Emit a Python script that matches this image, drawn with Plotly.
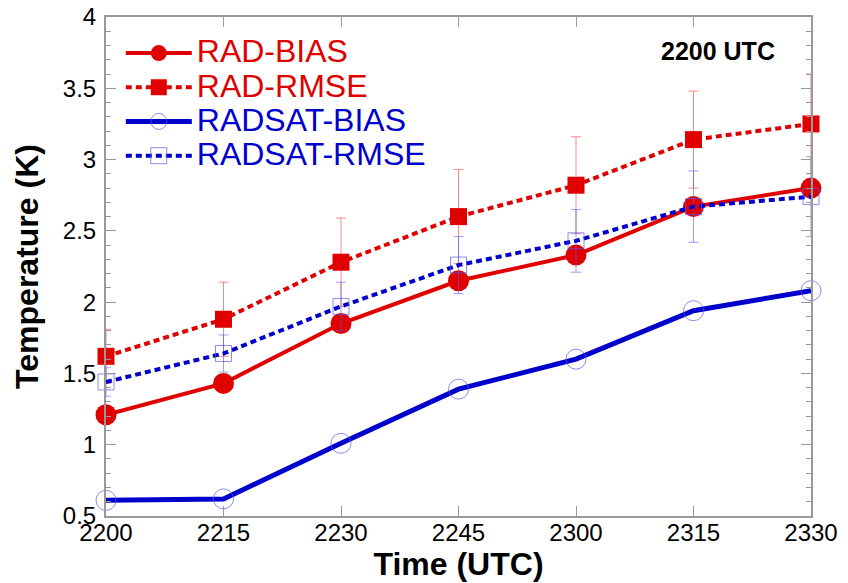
import plotly.graph_objects as go

times = ["2200", "2215", "2230", "2245", "2300", "2315", "2330"]
rad_bias = [1.21, 1.43, 1.85, 2.15, 2.33, 2.67, 2.80]
rad_rmse = [1.62, 1.88, 2.28, 2.60, 2.82, 3.14, 3.25]
rad_rmse_err = [0.19, 0.26, 0.31, 0.33, 0.34, 0.34, 0.35]
radsat_bias = [0.61, 0.62, 1.01, 1.39, 1.60, 1.94, 2.08]
radsat_rmse = [1.44, 1.64, 1.97, 2.26, 2.43, 2.67, 2.74]
radsat_rmse_err = [0.10, 0.13, 0.17, 0.20, 0.22, 0.25, 0.28]

RED = "#e00000"
BLUE = "#0000cc"
xs = list(range(len(times)))


def lname(text, color):
    return f"<span style='color:{color};font-size:32px'>{text}</span>"


fig = go.Figure()
fig.add_trace(go.Scatter(
    x=xs, y=rad_bias, mode="lines+markers", cliponaxis=False,
    name=lname("RAD-BIAS", RED),
    line=dict(color=RED, width=4),
    marker=dict(symbol="circle", size=21, color=RED),
))
fig.add_trace(go.Scatter(
    x=xs, y=rad_rmse, mode="lines+markers", cliponaxis=False,
    name=lname("RAD-RMSE", RED),
    line=dict(color=RED, width=4, dash="6px,4px"),
    marker=dict(symbol="square", size=17, color=RED),
    error_y=dict(type="data", array=rad_rmse_err, color="rgba(240,90,90,0.7)",
                 thickness=1, width=5),
))
fig.add_trace(go.Scatter(
    x=xs, y=radsat_bias, mode="lines+markers", cliponaxis=False,
    name=lname("RADSAT-BIAS", BLUE),
    line=dict(color=BLUE, width=5),
    marker=dict(symbol="circle-open", size=20, color="rgba(90,90,240,0.7)",
                line=dict(width=1)),
))
fig.add_trace(go.Scatter(
    x=xs, y=radsat_rmse, mode="lines+markers", cliponaxis=False,
    name=lname("RADSAT-RMSE", BLUE),
    line=dict(color=BLUE, width=4, dash="6px,4px"),
    marker=dict(symbol="square-open", size=16, color="rgba(90,90,240,0.7)",
                line=dict(width=1)),
    error_y=dict(type="data", array=radsat_rmse_err, color="rgba(90,90,240,0.6)",
                 thickness=1, width=5),
))

fig.update_layout(
    width=848, height=583,
    margin=dict(l=98, r=45, t=9, b=75, autoexpand=False),
    paper_bgcolor="white", plot_bgcolor="white",
    font=dict(family="Liberation Sans, Arial", color="black"),
    showlegend=True,
    legend=dict(x=0.021, y=0.972, xanchor="left", yanchor="top",
                bgcolor="rgba(0,0,0,0)", font=dict(size=24),
                itemwidth=66, tracegroupgap=0),
    annotations=[dict(text="<b>2200 UTC</b>", x=0.868, y=0.932,
                      xref="paper", yref="paper", xanchor="center", yanchor="middle",
                      showarrow=False, font=dict(size=25))],
)

fig.update_xaxes(
    range=[0, 6], tickmode="array", tickvals=xs, ticktext=times,
    ticks="inside", ticklen=10, tickcolor="#999", tickwidth=1,
    showline=True, linecolor="#999", linewidth=2, mirror="ticks",
    showgrid=False, zeroline=False, automargin=False,
    tickfont=dict(size=24), ticklabelstandoff=-6, ticklabeloverflow="allow",
    title=dict(text="<b>Time (UTC)</b>", font=dict(size=32), standoff=8),
)
fig.update_yaxes(
    range=[0.5, 4], tickmode="array", tickvals=[0.5, 1, 1.5, 2, 2.5, 3, 3.5, 4],
    ticktext=["0.5", "1", "1.5", "2", "2.5", "3", "3.5", "4"],
    ticks="inside", ticklen=10, tickcolor="#999", tickwidth=1,
    minor=dict(dtick=0.1, ticks="inside", ticklen=5, tickcolor="#999"),
    showline=True, linecolor="#999", linewidth=2, mirror="ticks",
    showgrid=False, zeroline=False, automargin=False,
    tickfont=dict(size=24), ticklabelstandoff=3, ticklabeloverflow="allow",
    title=dict(text="<b>Temperature (K)</b>", font=dict(size=32), standoff=15),
)

fig.write_html("out.html")
